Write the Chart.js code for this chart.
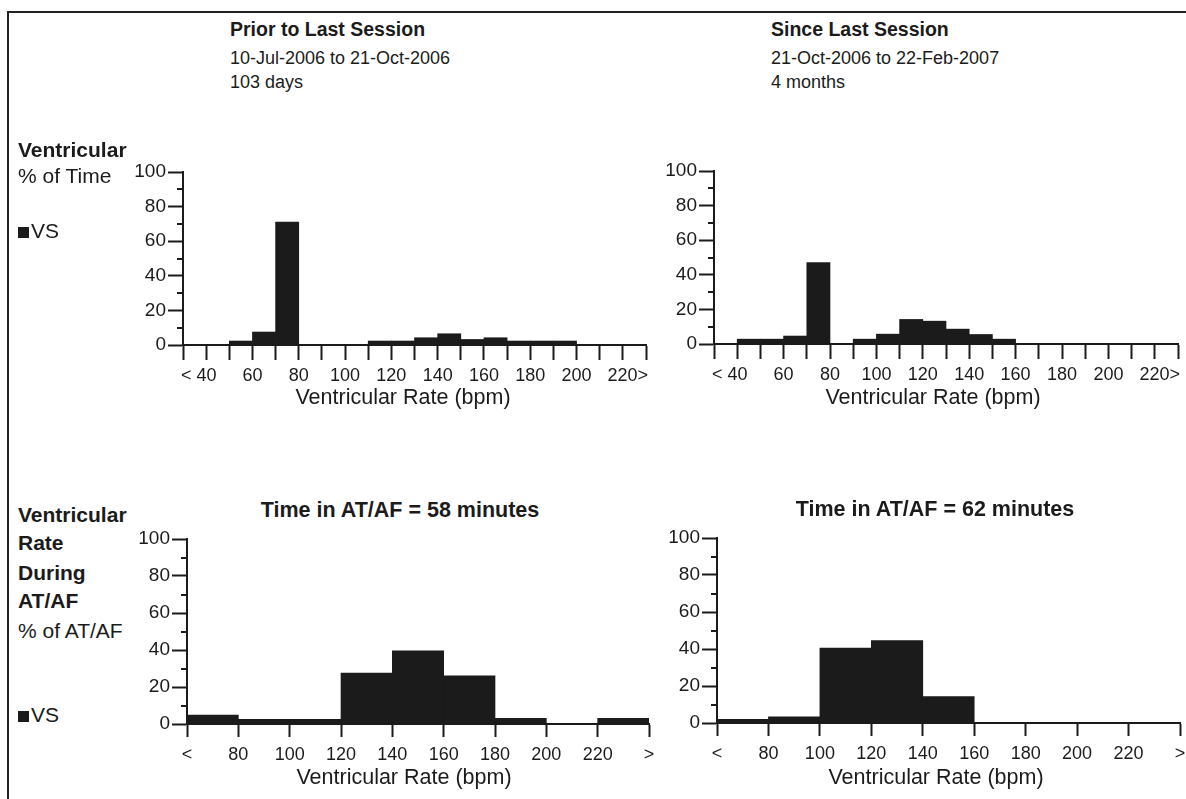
<!DOCTYPE html>
<html><head><meta charset="utf-8">
<script src="https://cdn.jsdelivr.net/npm/chart.js@4.4.1/dist/chart.umd.min.js"></script>
<style>
html,body{margin:0;padding:0;background:#fff;width:1186px;height:799px;overflow:hidden;}
#page{position:relative;width:1186px;height:799px;font-family:"Liberation Sans",Arial,sans-serif;color:#1b1b1b;overflow:hidden;}
.t{position:absolute;white-space:nowrap;}
canvas{position:absolute;}
#frame{position:absolute;left:7px;top:11px;width:1200px;height:800px;border-top:2px solid #222;border-left:2px solid #222;}
.sq{display:inline-block;width:11px;height:11px;background:#1b1b1b;margin-right:2px;vertical-align:baseline;}
</style></head><body><div id="page"><div id="frame"></div></div>
<script>
// ---- data ----
const topCategories = ['<40','40-49','50-59','60-69','70-79','80-89','90-99','100-109','110-119','120-129','130-139','140-149','150-159','160-169','170-179','180-189','190-199','200-209','210-219','>220'];
const priorVS = [0,0,2.3,7.5,71,0,0,0,2.3,2.3,4.2,6.5,3.2,4.2,2.3,2.3,2.3,0,0,0];
const sinceVS = [0,2.8,2.8,4.6,47,0.4,2.8,5.7,14.2,13.2,8.6,5.5,2.8,0,0.3,0.3,0.3,0,0,0];
const topTickLabels = ['','< 40','','60','','80','','100','','120','','140','','160','','180','','200','','220>',''];

const atafCategories = ['<80','80-99','100-119','120-139','140-159','160-179','180-199','200-219','>220'];
const priorATAF = [4.8,2.5,2.5,27.5,39.6,26,3,0.4,3];
const sinceATAF = [2,3.3,40.5,44.5,14.3,0,0,0,0];
const atafTickLabels = ['<','80','100','120','140','160','180','200','220','>'];

const yTickValues = [0,20,40,60,80,100];

// ---- drawing ----
const INK = '#1b1b1b';
const FONT = '"Liberation Sans", Arial, sans-serif';
const page = document.getElementById('page');
const YW = 60, PADT = 14, PADR = 12, XH = 45;

function text(str, x, base, size, bold, center) {
  const d = document.createElement('div');
  d.className = 't';
  d.textContent = str;
  d.style.fontSize = size + 'px';
  d.style.lineHeight = size + 'px';
  d.style.fontWeight = bold ? '700' : '400';
  d.style.top = (base - 0.8465 * size) + 'px';
  d.style.left = x + 'px';
  if (center) d.style.transform = 'translateX(-50%)';
  page.appendChild(d);
  return d;
}
function legendVS(x, base, size) {
  const d = text('', x, base, size, false, false);
  const s = document.createElement('span'); s.className = 'sq';
  d.appendChild(s);
  d.appendChild(document.createTextNode('VS'));
}

const minorTicks = {
  id: 'minorTicks',
  afterDraw(chart) {
    const y = chart.scales.y, ctx = chart.ctx;
    ctx.save(); ctx.strokeStyle = INK; ctx.lineWidth = 2;
    for (let v = 10; v < 100; v += 20) {
      const py = Math.round(y.getPixelForValue(v));
      ctx.beginPath(); ctx.moveTo(y.right - 6, py); ctx.lineTo(y.right, py); ctx.stroke();
    }
    ctx.restore();
  }
};

function histogram(area, values, tickLabels, tickLen, labelPad, fmt) {
  const c = document.createElement('canvas');
  const w = YW + (area.r - area.l) + PADR;
  const h = PADT + (area.b - area.t) + XH;
  c.width = w; c.height = h;
  c.style.left = (area.l - YW) + 'px'; c.style.top = (area.t - PADT) + 'px';
  c.style.width = w + 'px'; c.style.height = h + 'px';
  page.appendChild(c);
  return new Chart(c, {
    type: 'bar',
    data: { datasets: [{ data: values.map((v, i) => ({ x: i + 0.5, y: v })), backgroundColor: INK, borderWidth: 0, barPercentage: 1, categoryPercentage: 1 }] },
    options: {
      responsive: false, animation: false, devicePixelRatio: 1,
      layout: { padding: { top: PADT, right: PADR, left: 0, bottom: 0 } },
      plugins: { legend: { display: false }, tooltip: { enabled: false }, title: { display: false } },
      scales: {
        x: {
          type: 'linear', min: 0, max: values.length, offset: false,
          afterFit(s) { s.height = XH; s.paddingLeft = 0; s.paddingRight = 0; },
          ticks: { stepSize: 1, autoSkip: false, maxRotation: 0, minRotation: 0, includeBounds: true, padding: labelPad, color: INK,
                   font: { family: FONT, size: 18 }, callback: (v) => fmt(tickLabels[Math.round(v)] ?? '') },
          grid: { display: true, drawOnChartArea: false, drawTicks: true, tickLength: tickLen, tickWidth: 2, tickColor: INK, offset: false },
          border: { display: true, color: INK, width: 2 }
        },
        y: {
          type: 'linear', min: 0, max: 100,
          afterFit(s) { s.width = YW; s.paddingTop = 0; s.paddingBottom = 0; },
          afterBuildTicks(s) { s.ticks = yTickValues.map(v => ({ value: v })); },
          ticks: { padding: 2, color: INK, font: { family: FONT, size: 19 } },
          grid: { display: true, drawOnChartArea: false, drawTicks: true, tickLength: 15, tickWidth: 2, tickColor: INK },
          border: { display: true, color: INK, width: 2 }
        }
      }
    },
    plugins: [minorTicks]
  });
}

// labels "< 40" / "220>": keep the number centred on its tick
const topFmt = (s) => s.startsWith('<') ? s + '   ' : (s.endsWith('>') ? '  ' + s : s);
const plainFmt = (s) => s;

histogram({ l: 183, r: 646, t: 172, b: 345 }, priorVS, topTickLabels, 15, 5, topFmt);
histogram({ l: 714, r: 1178, t: 171, b: 344 }, sinceVS, topTickLabels, 15, 5, topFmt);
histogram({ l: 187, r: 649, t: 539, b: 724 }, priorATAF, atafTickLabels, 13, 7, plainFmt);
histogram({ l: 717, r: 1180, t: 538, b: 723 }, sinceATAF, atafTickLabels, 13, 7, plainFmt);

// headers
text('Prior to Last Session', 230, 37, 19.5, true);
text('10-Jul-2006 to 21-Oct-2006', 230, 64, 18, false);
text('103 days', 230, 88, 18, false);
text('Since Last Session', 771, 37, 19.5, true);
text('21-Oct-2006 to 22-Feb-2007', 771, 64, 18, false);
text('4 months', 771, 88, 18, false);

// left labels, top
text('Ventricular', 18, 157, 21, true);
text('% of Time', 18, 183, 21, false);
legendVS(18, 238, 21);

// left labels, bottom
text('Ventricular', 18, 522, 21, true);
text('Rate', 18, 550, 21, true);
text('During', 18, 580, 21, true);
text('AT/AF', 18, 608, 21, true);
text('% of AT/AF', 18, 638, 21, false);
legendVS(18, 722, 21);

// chart titles
text('Time in AT/AF = 58 minutes', 400, 518, 21.5, true, true);
text('Time in AT/AF = 62 minutes', 935, 517, 21.5, true, true);

// axis titles
text('Ventricular Rate (bpm)', 403, 405, 21.5, false, true);
text('Ventricular Rate (bpm)', 933, 405, 21.5, false, true);
text('Ventricular Rate (bpm)', 404, 785, 21.5, false, true);
text('Ventricular Rate (bpm)', 936, 785, 21.5, false, true);
</script>
</body></html>
